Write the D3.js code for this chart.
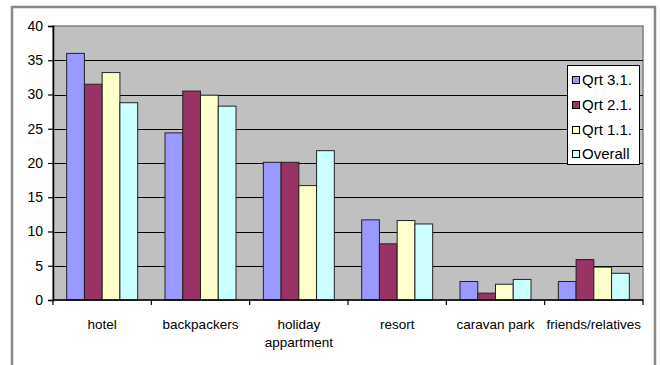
<!DOCTYPE html>
<html>
<head>
<meta charset="utf-8">
<script src="https://cdn.jsdelivr.net/npm/d3@7"></script>
<style>
  html, body { margin: 0; padding: 0; background: #fff; }
  svg { display: block; font-family: "Liberation Sans", Arial, sans-serif; }
</style>
</head>
<body>
<svg id="chart" width="660" height="365"></svg>
<script>
// Accommodation type by quarter (percent)
const categories = ["hotel", "backpackers", "holiday appartment", "resort", "caravan park", "friends/relatives"];
const seriesNames = ["Qrt 3.1.", "Qrt 2.1.", "Qrt 1.1.", "Overall"];
const qrt31 = [36.0, 24.4, 20.1, 11.7, 2.7, 2.7];
const qrt21 = [31.5, 30.5, 20.1, 8.2, 1.0, 5.9];
const qrt11 = [33.2, 29.9, 16.7, 11.6, 2.3, 4.8];
const overall = [28.8, 28.3, 21.8, 11.1, 3.0, 3.9];
const yTicks = [0, 5, 10, 15, 20, 25, 30, 35, 40];
const seriesColors = ["#9999FF", "#993366", "#FFFFCC", "#CCFFFF"];

const seriesValues = [qrt31, qrt21, qrt11, overall];

const svg = d3.select("#chart");

// outer chart frame (its bottom edge falls below the view)
svg.append("rect")
  .attr("x", 12).attr("y", 7)
  .attr("width", 643).attr("height", 400)
  .attr("fill", "#fff").attr("stroke", "#888").attr("stroke-width", 2.5);

const plot = { left: 53, top: 26, right: 643, bottom: 300 };

const x0 = d3.scaleBand().domain(categories)
  .range([plot.left, plot.right]).paddingInner(0).paddingOuter(0);
const bw = x0.bandwidth();
const x1 = d3.scaleBand().domain(seriesNames)
  .range([bw * 0.139, bw * (1 - 0.139)]).padding(0);
const y = d3.scaleLinear().domain([0, 40]).range([plot.bottom, plot.top]);

// plot background
svg.append("rect")
  .attr("x", plot.left).attr("y", plot.top)
  .attr("width", plot.right - plot.left).attr("height", plot.bottom - plot.top)
  .attr("fill", "#C0C0C0").attr("stroke", "#808080").attr("stroke-width", 1.5);

// horizontal gridlines
svg.append("g").selectAll("line")
  .data(yTicks.filter(t => t > 0 && t < 40))
  .join("line")
  .attr("x1", plot.left).attr("x2", plot.right)
  .attr("y1", d => Math.round(y(d)) + 0.5).attr("y2", d => Math.round(y(d)) + 0.5)
  .attr("stroke", "#000").attr("stroke-width", 1);

// bars
const groups = svg.append("g").selectAll("g")
  .data(categories)
  .join("g")
  .attr("transform", d => `translate(${x0(d)},0)`);

groups.selectAll("rect")
  .data((c, i) => seriesNames.map((s, k) => ({ s, v: seriesValues[k][i], k })))
  .join("rect")
  .attr("x", d => x1(d.s))
  .attr("y", d => y(d.v))
  .attr("width", x1.bandwidth())
  .attr("height", d => y(0) - y(d.v))
  .attr("fill", d => seriesColors[d.k])
  .attr("stroke", "#222").attr("stroke-width", 1);

// y axis
const yAxis = svg.append("g")
  .attr("transform", `translate(${plot.left},0)`)
  .call(d3.axisLeft(y).tickValues(yTicks).tickSize(5).tickPadding(5).tickFormat(d3.format("d")));
yAxis.select(".domain").attr("stroke", "#000").attr("stroke-width", 1.5);
yAxis.selectAll(".tick line").attr("stroke", "#000").attr("stroke-width", 1.2);
yAxis.selectAll(".tick text").attr("font-size", 14).attr("fill", "#000")
  .attr("font-family", "Liberation Sans, Arial, sans-serif");

// x axis baseline and category boundary ticks
svg.append("line")
  .attr("x1", plot.left).attr("x2", plot.right)
  .attr("y1", y(0)).attr("y2", y(0))
  .attr("stroke", "#000").attr("stroke-width", 1.5);
const boundaries = categories.map(c => x0(c)).concat([x0(categories[categories.length - 1]) + bw]);
svg.append("g").selectAll("line")
  .data(boundaries)
  .join("line")
  .attr("x1", d => d).attr("x2", d => d)
  .attr("y1", y(0)).attr("y2", y(0) + 5)
  .attr("stroke", "#000").attr("stroke-width", 1.2);

// category labels (wrapped onto two lines where needed)
const wrap = { "holiday appartment": ["holiday", "appartment"] };
const labels = svg.append("g").selectAll("text")
  .data(categories)
  .join("text")
  .attr("x", d => x0(d) + bw / 2)
  .attr("y", 329)
  .attr("text-anchor", "middle")
  .attr("font-size", 13.5)
  .attr("fill", "#000");
labels.each(function (d) {
  const lines = wrap[d] || [d];
  const t = d3.select(this);
  lines.forEach((ln, i) => {
    t.append("tspan").attr("x", x0(d) + bw / 2).attr("dy", i === 0 ? 0 : 18).text(ln);
  });
});

// legend
const lg = svg.append("g");
lg.append("rect")
  .attr("x", 567.5).attr("y", 65.5).attr("width", 72).attr("height", 99)
  .attr("fill", "#fff").attr("stroke", "#000").attr("stroke-width", 1);
const rowY = [80, 105, 130, 154];
seriesNames.forEach((s, k) => {
  lg.append("rect")
    .attr("x", 572.5).attr("y", rowY[k] - 3.5).attr("width", 7).attr("height", 7)
    .attr("fill", seriesColors[k]).attr("stroke", "#000").attr("stroke-width", 1);
  lg.append("text")
    .attr("x", 582).attr("y", rowY[k] + 5)
    .attr("font-size", 15).attr("fill", "#000")
    .text(s);
});
</script>
</body>
</html>
